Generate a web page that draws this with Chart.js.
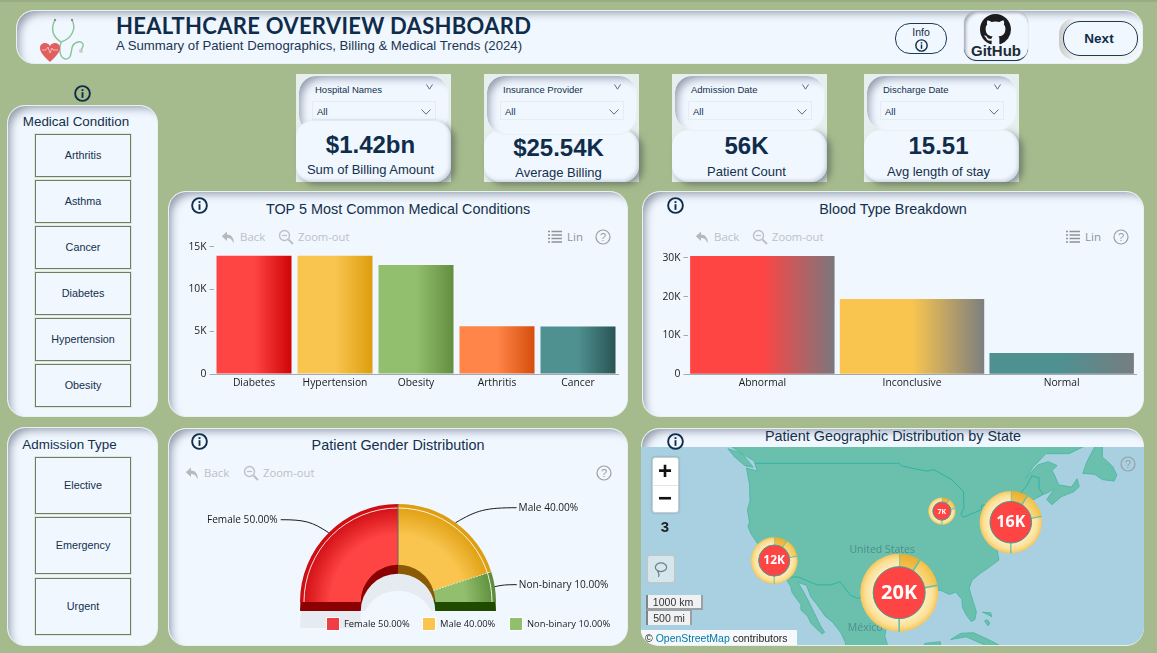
<!DOCTYPE html>
<html>
<head>
<meta charset="utf-8">
<title>Healthcare Overview Dashboard</title>
<script src="https://cdn.jsdelivr.net/npm/chart.js@4"></script>
<style>
html, body { margin: 0; padding: 0; background: #a6bb8d; overflow: hidden; }
#stage { position: relative; width: 1157px; height: 653px; overflow: hidden; font-family: "Liberation Sans", Arial, sans-serif; color: #14304b; }
#stage > * { position: absolute; }
svg { display: block; }
.panel { box-sizing: border-box; background: #f0f7ff; border: 1px solid #e8f0f2; border-radius: 18px;
    box-shadow: inset 7px 7px 9px -5px rgba(95, 105, 125, .65); overflow: hidden; }
.txt { white-space: nowrap; line-height: 1; }
.center { transform: translate(-50%, -50%); }
.left { transform: translateY(-50%); }
.btn { box-sizing: border-box; background: #f0f7ff; border: 1.5px solid #6f7f5e; outline: 1px solid #dfe8e0; }
.tool { color: #bcc1c7; font-family: "Open Sans", sans-serif; }
canvas { display: block; }
</style>
</head>
<body>
<div id="stage"></div>
<script>
// chart values
const conditionLabels = ['Diabetes', 'Hypertension', 'Obesity', 'Arthritis', 'Cancer'];
const conditionCounts = [13940, 13930, 12840, 5620, 5610];
const conditionTicks = [0, 5000, 10000, 15000];
const bloodLabels = ['Abnormal', 'Inconclusive', 'Normal'];
const bloodCounts = [30500, 19400, 5500];
const bloodTicks = [0, 10000, 20000, 30000];
const genderLabels = ['Female', 'Male', 'Non-binary'];
const genderShares = [50, 40, 10];
const clusterLons = [-95, -73.3, -119.3, -86.7];
const clusterLats = [30, 41, 35.2, 42.6];
const clusterCounts = [20, 16, 12, 7];
const clusterShares = [0.09, 0.13, 0.78];

// side filters and cards
const conditionFilters = ['Arthritis', 'Asthma', 'Cancer', 'Diabetes', 'Hypertension', 'Obesity'];
const admissionFilters = ['Elective', 'Emergency', 'Urgent'];
const slicerNames = ['Hospital Names', 'Insurance Provider', 'Admission Date', 'Discharge Date'];
const kpiValues = ['$1.42bn', '$25.54K', '56K', '15.51'];
const kpiNames = ['Sum of Billing Amount', 'Average Billing', 'Patient Count', 'Avg length of stay'];

// map outlines, lon/lat
const landMain = [[-132,56],[-128.5,52.5],[-127.5,51],[-125,50],[-123.2,49.3],[-122.6,48],[-124.7,48.4],[-124.1,46.3],[-124,44],[-124.5,42.8],[-124.1,41],[-124.4,40.4],[-123.8,39.3],[-122.5,37.8],[-121.9,36.6],[-120.6,34.6],[-118.5,34],[-117.2,32.6],[-116.1,31],[-115.8,30],[-114.7,28.7],[-114.1,28],[-114.1,27.1],[-112.8,26],[-112.1,24.7],[-110,22.9],[-109.5,23.2],[-110.3,24.3],[-111.2,26],[-112.6,28.5],[-113.5,30],[-114.7,31.7],[-113,31.2],[-112.2,29.3],[-110.9,27.9],[-109.4,26],[-108,25],[-106.4,23.2],[-105.5,21.5],[-105.3,20.4],[-105,19],[-100,16],[-95,15],[-90,13],[-87,16],[-87,21.5],[-90,21.2],[-90.7,19.5],[-92,18.6],[-94.5,18.2],[-96,19],[-97.3,21],[-97.8,22.5],[-97.2,25.8],[-97.4,27.5],[-95,29],[-93.8,29.7],[-91,29.2],[-89.2,29.1],[-89.5,30.2],[-87,30.4],[-85.2,29.7],[-84,30.1],[-82.8,28.9],[-82.7,27.5],[-81.8,26],[-81,25.1],[-80.3,25.4],[-80,26.8],[-80.6,28.4],[-81.4,30.7],[-80.9,32],[-79.2,33.2],[-77.9,33.9],[-75.6,35.3],[-76,37],[-75.3,38],[-74.1,39.7],[-74,40.6],[-72,41],[-70,41.6],[-70.7,42.7],[-70.2,43.7],[-67,44.9],[-66,45.2],[-64.8,45.7],[-66.3,44.2],[-65.3,43.5],[-63.5,44.6],[-61,45.3],[-60,46],[-60.4,47],[-61.5,45.9],[-64,46.2],[-64.8,47.5],[-65.3,48.1],[-64.3,48.7],[-66,49.2],[-68,48.8],[-70.5,47],[-69,48.5],[-66.5,50.2],[-62,50.2],[-58,51.4],[-56,52.5],[-60,56]];
const landIslands = [
    [[-59.3,47.7],[-57,47.6],[-55.5,46.9],[-53.2,46.7],[-52.7,47.5],[-53.5,48.6],[-55.5,49.8],[-55.5,51.5],[-57,51],[-58.5,49.2]],
    [[-128.3,50.8],[-125.5,50.2],[-123.4,48.5],[-125,48.7],[-127,49.8]],
    [[-85,21.9],[-83,23],[-80.5,23.1],[-77,21.6],[-74.2,20.2],[-77.5,19.9],[-78.5,21],[-82,22.4]],
    [[-78.4,25.2],[-77.7,24.3],[-77.4,24.8],[-77.9,25.4]],
    [[-78.8,26.7],[-77.2,26.6],[-77,25.9],[-77.6,26.2]]
];
const borderLines = [
    [[-123,49],[-95,49],[-94.6,48.7],[-92,48.3],[-89.5,48],[-88.3,48.2],[-84.8,46.9],[-83.5,46],[-82.5,45.3],[-82.4,43],[-83,42.2],[-82.5,41.7],[-79,42.8],[-79,43.4],[-76.8,43.6],[-75,45],[-71.5,45],[-70.3,46],[-69.2,47.4],[-67.8,47.1],[-67.8,45.7],[-67,44.9]],
    [[-117.1,32.5],[-114.7,32.6],[-111,31.3],[-108.2,31.3],[-106.5,31.8],[-104.5,29.6],[-103,29],[-101.5,29.8],[-99.5,27.5],[-97.2,25.9]]
];

const stage = document.getElementById('stage');
const ink = '#0f2d4a';

function place(x, y, w, h, cls, html = '', extra = '') {
    const el = document.createElement('div');
    el.className = cls;
    el.style.cssText = `left:${x}px;top:${y}px;width:${w}px;height:${h}px;${extra}`;
    el.innerHTML = html;
    stage.appendChild(el);
    return el;
}

function text(str, x, y, size, extra = '', align = 'center') {
    const el = document.createElement('div');
    el.className = `txt ${align}`;
    el.style.cssText = `left:${x}px;top:${y}px;font-size:${size}px;${extra}`;
    el.textContent = str;
    stage.appendChild(el);
    return el;
}

function infoIcon(cx, cy, size = 17, color = ink) {
    place(cx - size / 2, cy - size / 2, size, size, '', `<svg width="${size}" height="${size}" viewBox="0 0 18 18">
        <circle cx="9" cy="9" r="7.8" fill="none" stroke="${color}" stroke-width="2"/>
        <rect x="8" y="7.6" width="2" height="6" fill="${color}"/><rect x="8" y="4.4" width="2" height="2" fill="${color}"/></svg>`);
}

function helpIcon(cx, cy) {
    place(cx - 8, cy - 8, 16, 16, '', `<svg width="16" height="16" viewBox="0 0 16 16">
        <circle cx="8" cy="8" r="7" fill="none" stroke="#9a9ea3" stroke-width="1.2"/>
        <text x="8" y="12" font-size="11" font-family="Liberation Sans" text-anchor="middle" fill="#9a9ea3">?</text></svg>`);
}

function toolbar(y, backX, zoomX, listX) {
    place(backX, y - 7, 14, 14, '', `<svg width="14" height="14" viewBox="0 0 14 14"><path d="M6 1.5 L.8 6.2 L6 11 V8 C9 8 11 9 12.6 13.4 C13.4 8 10 4.6 6 4.6 Z" fill="#b5b9be"/></svg>`);
    text('Back', backX + 19, y, 11.5, '', 'left tool');
    place(zoomX, y - 8, 16, 16, '', `<svg width="16" height="16" viewBox="0 0 16 16"><circle cx="6.5" cy="6.5" r="5" fill="none" stroke="#bcc1c7" stroke-width="1.4"/><path d="M10.5 10.5 L15 15" stroke="#bcc1c7" stroke-width="2"/><path d="M4 6.5 H9" stroke="#bcc1c7" stroke-width="1.2"/></svg>`);
    text('Zoom-out', zoomX + 20, y, 11.2, '', 'left tool');
    if (listX) {
        place(listX, y - 7, 14, 14, '', `<svg width="14" height="14" viewBox="0 0 14 14"><path d="M0 1.5 H2 M3.5 1.5 H14 M0 5 H2 M3.5 5 H14 M0 8.5 H2 M3.5 8.5 H14 M0 12 H2 M3.5 12 H14" stroke="#8f9398" stroke-width="1.5"/></svg>`);
        text('Lin', listX + 19, y, 11.5, 'color:#8f9398;', 'left tool');
    }
}

function chevron(cx, cy, w) {
    place(cx - w / 2, cy - 3, w, 6, '', `<svg width="${w}" height="6" viewBox="0 0 ${w} 6"><path d="M.5 .5 L${w / 2} 5.2 L${w - .5} .5" fill="none" stroke="#5a6e84" stroke-width="1"/></svg>`);
}

// slicer + KPI card; the first one has the KPI card lying over the slicer
function card(i, x, slicerH, kpiTop, valueY, nameY) {
    const w = 154;
    place(x - 1, 74, w + 1, 108, '', '', 'background:#e6efee;');
    const slicer = () => {
        place(x + 1, 75, w - 3, slicerH, 'panel', '', 'border-radius:18px 18px 20px 20px;');
        text(slicerNames[i], x + 18, 89.5, 9.5, '', 'left');
        chevron(x + 132, 87, 7);
        place(x + 15, 101, 124, 19, '', '', 'box-sizing:border-box;border:1px solid #e6ecf2;');
        text('All', x + 20, 112, 9.5, '', 'left');
        chevron(x + 129, 112, 10);
    };
    const kpi = () => {
        place(x - 1, kpiTop, w + 1, 182 - kpiTop, '', '', 'box-sizing:border-box;background:#f0f7ff;border-radius:16px;box-shadow:4px 3px 6px rgba(70,80,80,.55), inset -2px -2px 3px rgba(150,160,180,.35);');
        text(kpiValues[i], x + 73.5, valueY, 24, `font-weight:bold;color:${ink};`);
        text(kpiNames[i], x + 73.5, nameY, 13, 'color:#14304b;');
    };
    if (i === 0) { slicer(); kpi(); } else { kpi(); slicer(); }
}

// ---- page furniture ----
place(0, 0, 1157, 2, '', '', 'background:#9aab84;');

// header
place(16, 10, 1127, 54, 'panel', '', 'border-radius:18px;');
place(37, 15, 50, 50, '', `<svg width="50" height="50" viewBox="0 0 50 50">
    <path d="M18 5 C13 14 16 22 24 27 C22 33 22 42 28 44 C34 45 34 38 35 33 C36 27 44 25 46 29 C47 32 45 33 44 35" fill="none" stroke="#86c596" stroke-width="1.4"/>
    <path d="M35 5 C40 14 34 24 24 27" fill="none" stroke="#86c596" stroke-width="1.4"/>
    <circle cx="18" cy="5" r="1.2" fill="#8a8f8f"/><circle cx="35" cy="5" r="1.2" fill="#8a8f8f"/><circle cx="44" cy="36" r="2" fill="#c7cfc9"/>
    <path d="M13 47 C8 42 3 38 3 33 C3 28 10 26 13 31 C16 26 23 28 23 33 C23 38 18 42 13 47 Z" fill="#e25f5f"/>
    <path d="M5 35 H9 L11 32 L13 38 L15 33 L16 35 H21" fill="none" stroke="#f9dede" stroke-width=".7"/></svg>`);
text('HEALTHCARE OVERVIEW DASHBOARD', 116, 26, 22, `font-family:Lato,sans-serif;font-weight:bold;letter-spacing:.3px;color:${ink};`, 'left');
text('A Summary of Patient Demographics, Billing & Medical Trends (2024)', 116, 46, 13.2, 'color:#1c3550;', 'left');

place(895, 23, 52, 31, '', '', 'box-sizing:border-box;border:1px solid #1b3a55;border-radius:15px;background:#f0f7ff;');
text('Info', 921, 32, 10.5, `color:${ink};`);
infoIcon(921, 45, 13);
place(964, 11, 64, 50, '', '', 'box-sizing:border-box;background:#f0f7ff;border-radius:13px;border-bottom:1px solid #1b3a55;box-shadow:inset 2px 2px 3px rgba(120,125,135,.6), 0 0 1px #8890a0;');
place(980, 14, 31, 31, '', `<svg width="31" height="31" viewBox="0 0 16 16"><path fill="#1c1c1e" d="M8 0C3.58 0 0 3.58 0 8c0 3.54 2.29 6.53 5.47 7.59.4.07.55-.17.55-.38 0-.19-.01-.82-.01-1.49-2.01.37-2.53-.49-2.69-.94-.09-.23-.48-.94-.82-1.13-.28-.15-.68-.52-.01-.53.63-.01 1.08.58 1.23.82.72 1.21 1.87.87 2.33.66.07-.52.28-.87.51-1.07-1.78-.2-3.64-.89-3.64-3.95 0-.87.31-1.59.82-2.15-.08-.2-.36-1.02.08-2.12 0 0 .67-.21 2.2.82.64-.18 1.32-.27 2-.27.68 0 1.36.09 2 .27 1.53-1.04 2.2-.82 2.2-.82.44 1.1.16 1.92.08 2.12.51.56.82 1.27.82 2.15 0 3.07-1.87 3.75-3.65 3.95.29.25.54.73.54 1.48 0 1.07-.01 1.93-.01 2.2 0 .21.15.46.55.38A8.013 8.013 0 0016 8c0-4.42-3.58-8-8-8z"/></svg>`);
text('GitHub', 996, 50, 15, 'font-family:"Liberation Sans Narrow","Liberation Sans";font-weight:bold;color:#1c2a33;');
place(1059, 18, 80, 42, '', '', 'border-radius:16px;background:linear-gradient(90deg,#c9cbc9,#f0f3f4 20%);');
place(1063, 21, 75, 35, '', '', 'box-sizing:border-box;border:1px solid #1b3a55;border-radius:17px;background:#f0f7ff;');
text('Next', 1099, 39, 13.5, `font-weight:bold;font-family:"Liberation Sans";color:${ink};`);

// left filters
infoIcon(82, 93);
place(7, 105, 151, 312, 'panel');
text('Medical Condition', 76, 122, 13.4);
const conditionTops = [134, 180, 226, 272, 318, 364];
conditionFilters.forEach((name, i) => {
    place(35, conditionTops[i], 96, 43, 'btn');
    text(name, 83, conditionTops[i] + 21, 10.8);
});
place(7, 427, 151, 219, 'panel');
text('Admission Type', 69.5, 445, 13.4);
const admissionTops = [457, 517, 578];
admissionFilters.forEach((name, i) => {
    place(35, admissionTops[i], 96, 57, 'btn');
    text(name, 83, admissionTops[i] + 28, 10.8);
});

// slicer and KPI cards
card(0, 297, 60, 121, 145, 169);
card(1, 485, 60, 130, 148, 172);
card(2, 673, 56, 130, 146, 171);
card(3, 865, 56, 130, 146, 171);

// chart panels
place(168, 191, 460, 226, 'panel');
place(642, 191, 502, 226, 'panel');
place(168, 428, 460, 218, 'panel');
place(641, 428, 503, 218, 'panel');
text('TOP 5 Most Common Medical Conditions', 398, 209, 14.4);
text('Blood Type Breakdown', 893, 209, 14.4);
text('Patient Gender Distribution', 398, 445, 14.4);
infoIcon(199, 205);
infoIcon(675, 205);
infoIcon(199, 441);
toolbar(237, 221, 278, 548);
toolbar(237, 695, 752, 1066);
toolbar(473, 185, 243, 0);
helpIcon(603, 237);
helpIcon(1121, 237);
helpIcon(604, 473);

function addCanvas(x, y, w, h) {
    const canvas = document.createElement('canvas');
    canvas.width = w;
    canvas.height = h;
    canvas.style.cssText = `left:${x}px;top:${y}px;width:${w}px;height:${h}px;`;
    stage.appendChild(canvas);
    return canvas;
}

// ---- bar charts ----
const tickFont = { family: '"Open Sans", sans-serif', size: 10.3 };

function barFill(ctx, colors, stops) {
    const chart = ctx.chart;
    const x = chart.scales.x;
    if (!chart.chartArea || !x) return colors[ctx.dataIndex][0];
    const cx = x.getPixelForValue(ctx.dataIndex);
    const half = x.width / x.ticks.length / 2;
    const pair = colors[ctx.dataIndex];
    const grad = chart.ctx.createLinearGradient(cx - half, 0, cx + half, 0);
    grad.addColorStop(0, pair[0]);
    grad.addColorStop(stops, pair[0]);
    grad.addColorStop(1, pair[1]);
    return grad;
}

function createBarChart(canvas, labels, values, colors, opts) {
    return new Chart(canvas, {
        type: 'bar',
        data: {
            labels: labels,
            datasets: [{
                data: values,
                backgroundColor: ctx => barFill(ctx, colors, 0.5),
                barPercentage: opts.barPct,
                categoryPercentage: 1
            }]
        },
        options: {
            responsive: false,
            animation: false,
            layout: { padding: { top: opts.top, right: 0.5, left: 0, bottom: 0 } },
            plugins: { legend: { display: false }, tooltip: { enabled: false } },
            scales: {
                x: {
                    afterFit: s => { s.height = opts.below; s.paddingLeft = 0; s.paddingRight = 0; },
                    grid: { display: false, tickLength: 0 },
                    border: { display: true, color: '#a3a9b0' },
                    ticks: { color: '#1b1b1b', font: tickFont, padding: 3, maxRotation: 0 }
                },
                y: {
                    min: 0,
                    max: opts.max,
                    afterBuildTicks: s => { s.ticks = opts.ticks.map(v => ({ value: v })); },
                    afterFit: s => { s.width = opts.axisW; s.paddingTop = 0; s.paddingBottom = 0; },
                    grid: { drawOnChartArea: false, color: '#a3a9b0', tickLength: 4 },
                    border: { display: false },
                    ticks: {
                        padding: 3,
                        color: '#1b1b1b',
                        font: tickFont,
                        callback: v => v === 0 ? '0' : `${v / 1000}K`
                    }
                }
            }
        }
    });
}

createBarChart(addCanvas(170, 240, 449, 160), conditionLabels, conditionCounts,
    [['#ff4444', '#cc0000'], ['#f9c54f', '#db9a08'], ['#92bf6d', '#5f8a3c'], ['#ff8548', '#d24a08'], ['#4f9090', '#264f4f']],
    { barPct: 0.926, top: 6.7, below: 26, axisW: 43.5, max: 15000, ticks: conditionTicks });

createBarChart(addCanvas(642, 250, 495, 150), bloodLabels, bloodCounts,
    [['#ff4444', '#75797e'], ['#f9c54f', '#787c80'], ['#4f9090', '#787c80']],
    { barPct: 0.965, top: 5.6, below: 25.7, axisW: 45.5, max: 30600, ticks: bloodTicks });

// ---- gender half doughnut ----
const genderFill = [['#ff4444', '#cc0a10'], ['#f9c54f', '#dd9c0c'], ['#92bf6d', '#5a8a38']];
const genderSide = ['#8b0000', '#8a5a05', '#1f4a00'];
const calloutEnds = [[-48, -13], [61, -15], [22, -2]];

function sector(c, el, shift) {
    c.beginPath();
    c.arc(el.x, el.y + shift, el.outerRadius, el.startAngle, el.endAngle);
    c.arc(el.x, el.y + shift, el.innerRadius, el.endAngle, el.startAngle, true);
    c.closePath();
}

const gaugeDepth = {
    id: 'gaugeDepth',
    beforeDatasetsDraw(chart) {
        const c = chart.ctx;
        const arcs = chart.getDatasetMeta(0).data;
        const first = arcs[0];
        c.save();
        // cast shadow: in the hole and under the left foot only
        c.save();
        c.beginPath();
        c.rect(0, 0, chart.width, first.y + 9);
        c.rect(0, first.y + 9, first.x - first.innerRadius, chart.height);
        c.clip();
        arcs.forEach(el => { sector(c, el, 26); c.fillStyle = '#e6ebf1'; c.fill(); });
        c.restore();
        arcs.forEach((el, i) => { sector(c, el, 9); c.fillStyle = genderSide[i]; c.fill(); });
        c.restore();
    },
    afterDatasetsDraw(chart) {
        const c = chart.ctx;
        const arcs = chart.getDatasetMeta(0).data;
        const first = arcs[0];
        c.save();
        c.strokeStyle = 'rgba(255,255,255,0.85)';
        c.lineWidth = 1;
        c.beginPath();
        c.arc(first.x, first.y, first.outerRadius - 4, Math.PI, 2 * Math.PI);
        c.stroke();
        // seams between the slices
        arcs.slice(0, -1).forEach((el, i) => {
            c.strokeStyle = i === 0 ? '#5c6670' : '#e8eccf';
            c.setLineDash(i === 0 ? [] : [2, 1]);
            c.beginPath();
            c.moveTo(el.x + Math.cos(el.endAngle) * el.innerRadius, el.y + Math.sin(el.endAngle) * el.innerRadius);
            c.lineTo(el.x + Math.cos(el.endAngle) * el.outerRadius, el.y + Math.sin(el.endAngle) * el.outerRadius);
            c.stroke();
        });
        c.setLineDash([]);
        // callouts
        c.font = '10.1px "Open Sans", sans-serif';
        c.textBaseline = 'middle';
        arcs.forEach((el, i) => {
            const mid = (el.startAngle + el.endAngle) / 2;
            const ax = el.x + Math.cos(mid) * el.outerRadius;
            const ay = el.y + Math.sin(mid) * el.outerRadius;
            const ex = ax + calloutEnds[i][0];
            const ey = ay + calloutEnds[i][1];
            c.strokeStyle = '#1b1b1b';
            c.lineWidth = 1;
            c.beginPath();
            c.moveTo(ax, ay);
            c.bezierCurveTo(ax + (ex - ax) * 0.35, ey + (ay - ey) * 0.15, ax + (ex - ax) * 0.5, ey, ex, ey);
            c.stroke();
            c.fillStyle = '#1b1b1b';
            c.textAlign = ex < ax ? 'right' : 'left';
            c.fillText(`${genderLabels[i]} ${genderShares[i].toFixed(2)}%`, ex + (ex < ax ? -3 : 2), ey);
        });
        c.restore();
    }
};

function genderGradient(ctx) {
    const chart = ctx.chart;
    const area = chart.chartArea;
    const pair = genderFill[ctx.dataIndex];
    if (!area) return pair[0];
    const cx = (area.left + area.right) / 2;
    const r = (area.right - area.left) / 2;
    const grad = chart.ctx.createRadialGradient(cx, area.bottom, r * 0.37, cx, area.bottom, r);
    grad.addColorStop(0, pair[0]);
    grad.addColorStop(0.5, pair[0]);
    grad.addColorStop(1, pair[1]);
    return grad;
}

new Chart(addCanvas(168, 428, 460, 218), {
    type: 'doughnut',
    data: { labels: genderLabels, datasets: [{ data: genderShares, backgroundColor: genderGradient, borderWidth: 0 }] },
    options: {
        responsive: false,
        animation: false,
        rotation: -90,
        circumference: 180,
        cutout: '38%',
        layout: { padding: { left: 132, right: 132, top: 76, bottom: 44 } },
        plugins: { legend: { display: false }, tooltip: { enabled: false } }
    },
    plugins: [gaugeDepth]
});

const legendX = [326, 422, 509];
const swatchColors = ['#ee3e46', '#f9c54f', '#92bf6d'];
genderLabels.forEach((name, i) => {
    place(legendX[i], 617, 14, 14, '', '', `box-sizing:border-box;background:${swatchColors[i]};border:1px solid #fff;`);
    text(`${name} ${genderShares[i].toFixed(2)}%`, legendX[i] + 18, 624, 9.4, 'font-family:"Open Sans",sans-serif;color:#1b1b1b;', 'left');
});

// ---- map ----
const toMerc = lat => Math.log(Math.tan(Math.PI / 4 + lat * Math.PI / 360)) * 180 / Math.PI;
place(641, 447, 503, 198, '', '', 'background:#a8d0e0;border-radius:0 0 18px 18px;');

function tracePath(chart, points, close) {
    const c = chart.ctx;
    const x = chart.scales.x;
    const y = chart.scales.y;
    c.beginPath();
    points.forEach((p, i) => {
        const px = x.getPixelForValue(p[0]);
        const py = y.getPixelForValue(toMerc(p[1]));
        if (i === 0) c.moveTo(px, py); else c.lineTo(px, py);
    });
    if (close) c.closePath();
}

const basemap = {
    id: 'basemap',
    beforeDatasetsDraw(chart) {
        const c = chart.ctx;
        c.save();
        c.lineJoin = 'round';
        [landMain, ...landIslands].forEach(shape => {
            tracePath(chart, shape, true);
            c.fillStyle = '#6bbfad';
            c.fill();
            c.strokeStyle = '#4fb9a6';
            c.lineWidth = 1;
            c.stroke();
        });
        borderLines.forEach(line => {
            tracePath(chart, line, false);
            c.strokeStyle = '#2db5a2';
            c.lineWidth = 1;
            c.stroke();
        });
        c.font = '10.5px "Open Sans", sans-serif';
        c.fillStyle = 'rgba(70,125,125,0.75)';
        c.textAlign = 'center';
        c.textBaseline = 'middle';
        c.fillText('United States', chart.scales.x.getPixelForValue(-98.3), chart.scales.y.getPixelForValue(toMerc(36.8)));
        c.fillText('México', chart.scales.x.getPixelForValue(-101.6), chart.scales.y.getPixelForValue(toMerc(23.9)));
        // rings around the clusters
        chart.getDatasetMeta(0).data.forEach(el => {
            const r = el.options.radius;
            const outer = r * 1.5;
            const top = -Math.PI / 2;
            const ringGrad = (a, b, d) => {
                const g = c.createRadialGradient(el.x, el.y, r, el.x, el.y, outer);
                g.addColorStop(0, a);
                g.addColorStop(0.6, b);
                g.addColorStop(1, d);
                return g;
            };
            const ringColors = [
                ringGrad('#f3c04e', '#eeb63c', '#e8ae30'),
                ringGrad('#fad880', '#f6cc62', '#f0c040'),
                ringGrad('#fdeeb8', '#fbe098', '#f5c659')
            ];
            let start = top;
            clusterShares.forEach((share, i) => {
                const end = start + share * 2 * Math.PI;
                c.beginPath();
                c.arc(el.x, el.y, outer, start, end);
                c.arc(el.x, el.y, r, end, start, true);
                c.closePath();
                c.fillStyle = ringColors[i];
                c.fill();
                c.strokeStyle = '#6bbfad';
                c.lineWidth = Math.max(1, r / 16);
                c.beginPath();
                c.moveTo(el.x + Math.cos(start) * r, el.y + Math.sin(start) * r);
                c.lineTo(el.x + Math.cos(start) * outer, el.y + Math.sin(start) * outer);
                c.stroke();
                start = end;
            });
            c.beginPath();
            c.moveTo(el.x, el.y + r);
            c.lineTo(el.x, el.y + outer);
            c.stroke();
        });
        c.restore();
    },
    afterDatasetsDraw(chart) {
        const c = chart.ctx;
        c.save();
        c.fillStyle = '#ffffff';
        c.textAlign = 'center';
        c.textBaseline = 'middle';
        chart.getDatasetMeta(0).data.forEach((el, i) => {
            c.font = `bold ${Math.round(el.options.radius * 0.78)}px "Noto Sans", sans-serif`;
            c.fillText(`${clusterCounts[i]}K`, el.x, el.y + 0.5);
        });
        c.restore();
    }
};

const clusterPoints = clusterCounts.map((count, i) => ({ x: clusterLons[i], y: toMerc(clusterLats[i]), r: count * 1.3 }));

const mapCanvas = addCanvas(641, 447, 503, 198);
mapCanvas.style.borderRadius = '0 0 18px 18px';
new Chart(mapCanvas, {
    type: 'bubble',
    data: { datasets: [{ data: clusterPoints, backgroundColor: '#ff4444', borderColor: '#4c9a9a', borderWidth: 1 }] },
    options: {
        responsive: false,
        animation: false,
        layout: { padding: 0, autoPadding: false },
        plugins: { legend: { display: false }, tooltip: { enabled: false } },
        scales: {
            x: { type: 'linear', display: false, min: -145.2, max: -47.4 },
            y: { type: 'linear', display: false, min: 21.4, max: 59.5 }
        }
    },
    plugins: [basemap]
});

// map chrome
text('Patient Geographic Distribution by State', 893, 436, 14.4);
infoIcon(675, 441);
helpIcon(1128, 464);
place(652, 457, 27, 56, '', '', 'box-sizing:border-box;background:#fff;border:1px solid #c4ced4;border-radius:3px;box-shadow:0 0 2px #7d8e96;');
place(653, 485, 25, 1, '', '', 'background:#e4e4e4;');
text('+', 665, 471, 24, 'color:#111;font-weight:bold;');
text('−', 665, 498, 24, 'color:#111;font-weight:bold;');
text('3', 665, 526, 15, 'color:#222;font-weight:bold;');
place(646, 554, 30, 30, '', `<svg width="26" height="26" viewBox="0 0 30 30"><ellipse cx="15" cy="13" rx="6.5" ry="5" fill="none" stroke="#6e7f88" stroke-width="1.4"/><path d="M11 17 C12 20 14 21 12 24" fill="none" stroke="#6e7f88" stroke-width="1.4"/></svg>`,
    'box-sizing:border-box;background:#d5e7ec;border:2px solid #b8c9cf;border-radius:4px;');
place(646, 595, 57, 15, '', '', 'box-sizing:border-box;background:#f0f1f2;border-left:2px solid #7e8488;border-right:2px solid #9aa0a4;border-bottom:2px solid #9aa0a4;');
place(646, 610, 46, 15, '', '', 'box-sizing:border-box;background:#f0f1f2;border-left:2px solid #7e8488;border-right:2px solid #9aa0a4;border-top:1px solid #9aa0a4;');
text('1000 km', 673, 602, 10.5, 'color:#333;');
text('500 mi', 669, 618, 10.5, 'color:#333;');
place(641, 630, 156, 15, '', '', 'background:#f5f9fb;border-radius:0 0 0 16px;');
const attribution = text('', 645, 638, 10.5, 'color:#222;', 'left');
attribution.innerHTML = '© <span style="color:#0078a8">OpenStreetMap</span> contributors';
</script>
</body>
</html>
